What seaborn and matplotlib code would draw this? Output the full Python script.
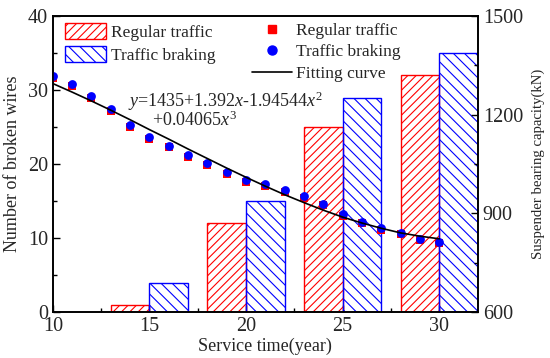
import matplotlib
matplotlib.use("Agg")
import matplotlib.pyplot as plt
from matplotlib.patches import Patch
from matplotlib.lines import Line2D
from matplotlib.ticker import MultipleLocator
import seaborn as sns
import pandas as pd

# Datos
bar_years = [15, 20, 25, 30]
regular_wires = [1, 12, 25, 32]
braking_wires = [4, 15, 29, 35]

years = list(range(10, 31))
braking_capacity = [1318, 1293, 1256, 1218, 1169, 1132, 1106, 1078, 1052, 1025, 1003,
                    989, 971, 952, 930, 897, 875, 856, 842, 823, 814]
regular_capacity = [1313, 1288, 1251, 1212, 1164, 1127, 1101, 1072, 1046, 1019, 997,
                    984, 966, 947, 925, 892, 870, 851, 837, 818, 809]
fit_capacity = [1295, 1269, 1242, 1214, 1185, 1155, 1126, 1096, 1067, 1038, 1010,
                983, 957, 933, 910, 889, 871, 855, 841, 831, 823]

sns.set_style("ticks")
plt.rcParams["font.family"] = ["Liberation Serif", "DejaVu Serif"]
plt.rcParams["mathtext.fontset"] = "custom"
plt.rcParams["mathtext.rm"] = "Liberation Serif"
plt.rcParams["mathtext.it"] = "Liberation Serif:italic"
plt.rcParams["hatch.linewidth"] = 0.8

df_bars = pd.DataFrame({
    "year": bar_years * 2,
    "wires": regular_wires + braking_wires,
    "case": ["Regular traffic"] * 4 + ["Traffic braking"] * 4,
})

fig, ax = plt.subplots(figsize=(5.5, 3.58), dpi=100)
fig.subplots_adjust(left=0.096, right=0.869, top=0.955, bottom=0.128)

sns.barplot(data=df_bars, x="year", y="wires", hue="case", native_scale=True,
            width=0.8, dodge=True, fill=False, linewidth=1.0, legend=False,
            palette={"Regular traffic": "#ff0000", "Traffic braking": "#0000ff"}, ax=ax)
for cont, h in zip(ax.containers, ["////", "\\\\\\"]):
    for p in cont:
        p.set_hatch(h)

ax.set_xlim(10, 32)
ax.set_ylim(0, 40)
ax.set_xlabel("Service time(year)", fontsize=13, labelpad=1)
ax.set_ylabel("Number of broken wires", fontsize=13, labelpad=5)
ax.xaxis.set_major_locator(MultipleLocator(5))
ax.xaxis.set_minor_locator(MultipleLocator(2.5))
ax.yaxis.set_major_locator(MultipleLocator(10))
ax.yaxis.set_minor_locator(MultipleLocator(5))
ax.tick_params(which="both", direction="in", labelsize=14.5, pad=3.5, top=False, color="black")
ax.tick_params(which="major", length=5, width=1)
ax.tick_params(which="minor", length=3, width=1)

ax2 = ax.twinx()
sns.scatterplot(x=years, y=regular_capacity, marker="s", color="#ff0000", s=28,
                linewidth=0, ax=ax2)
sns.scatterplot(x=years, y=braking_capacity, marker="o", color="#0000ff", s=40,
                linewidth=0, ax=ax2)
sns.lineplot(x=years, y=fit_capacity, color="black", linewidth=1.2, ax=ax2)
ax2.set_ylim(600, 1500)
ax2.yaxis.set_major_locator(MultipleLocator(300))
ax2.yaxis.set_minor_locator(MultipleLocator(150))
ax2.set_ylabel("Suspender bearing capacity(kN)", fontsize=10.6, labelpad=6)
ax2.tick_params(which="both", direction="in", labelsize=14.5, pad=3.5, color="black")
ax2.tick_params(which="major", length=5, width=1)
ax2.tick_params(which="minor", length=3, width=1)

for a in (ax, ax2):
    for s in a.spines.values():
        s.set_color("black")
        s.set_linewidth(1.2)

# Leyendas
bar_handles = [Patch(facecolor="none", edgecolor="#ff0000", hatch="////", linewidth=1.0),
               Patch(facecolor="none", edgecolor="#0000ff", hatch="\\\\\\", linewidth=1.0)]
leg1 = ax2.legend(bar_handles, ["Regular traffic", "Traffic braking"], loc="upper left",
                  bbox_to_anchor=(0.028, 0.977), frameon=False, fontsize=12.5,
                  handlelength=2.4, handleheight=1.05, labelspacing=0.3,
                  borderpad=0, borderaxespad=0, handletextpad=0.25)
ax2.add_artist(leg1)
pt_handles = [Line2D([], [], marker="s", color="#ff0000", linestyle="none", markersize=5.5),
              Line2D([], [], marker="o", color="#0000ff", linestyle="none", markersize=6.5),
              Line2D([], [], color="black", linewidth=1.2)]
ax2.legend(pt_handles, ["Regular traffic", "Traffic braking", "Fitting curve"],
           loc="upper left", bbox_to_anchor=(0.468, 0.977), frameon=False, fontsize=12.5,
           handlelength=2.3, labelspacing=0.3, borderpad=0, borderaxespad=0,
           handletextpad=0.25)

ax2.text(0.176, 0.694, r"$y$=1435+1.392$x$-1.94544$x^2$", transform=ax2.transAxes,
         fontsize=13, va="baseline", ha="left")
ax2.text(0.233, 0.628, r"+0.04065$x^3$", transform=ax2.transAxes,
         fontsize=13, va="baseline", ha="left")

fig.savefig("out.png", dpi=100)
